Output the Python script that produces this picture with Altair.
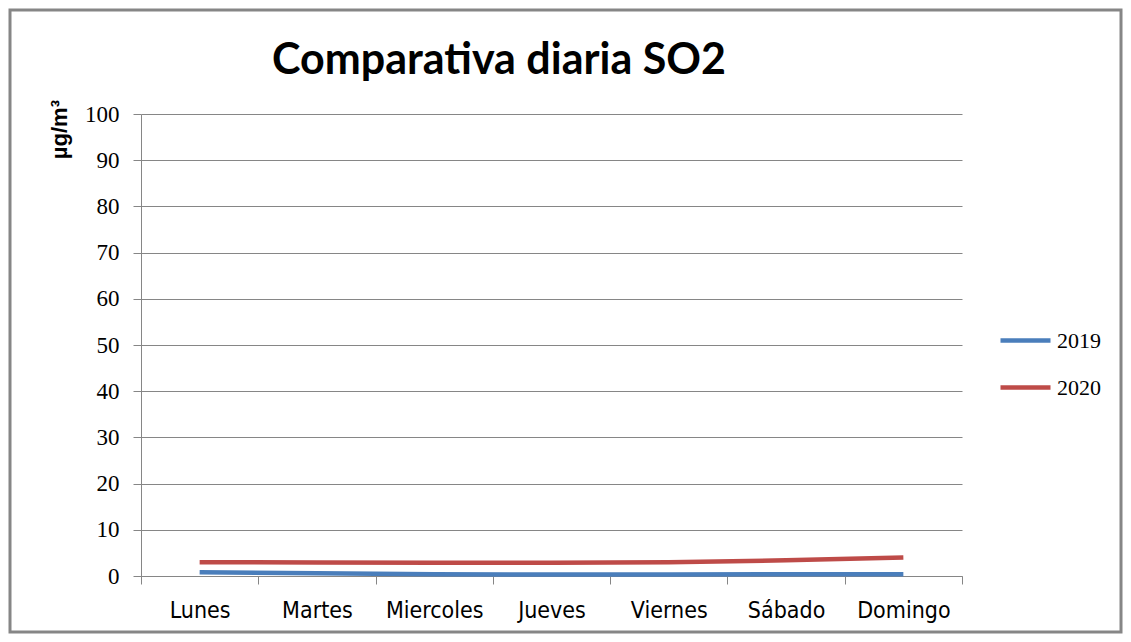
import altair as alt
import pandas as pd

days = ["Lunes", "Martes", "Miercoles", "Jueves", "Viernes", "Sábado", "Domingo"]
so2_2019 = [0.8, 0.6, 0.4, 0.3, 0.3, 0.4, 0.4]
so2_2020 = [3.0, 2.9, 2.85, 2.85, 3.0, 3.4, 4.0]
series = ["2019", "2020"]
colors = ["#4A7EBB", "#BE4B48"]

rows = []
for d, v in zip(days, so2_2019):
    rows.append({"dia": d, "valor": v, "serie": "2019"})
for d, v in zip(days, so2_2020):
    rows.append({"dia": d, "valor": v, "serie": "2020"})
df = pd.DataFrame(rows)

W, H = 821, 462

lines = alt.Chart(df).mark_line(strokeWidth=4.5).encode(
    x=alt.X("dia:N", sort=days, bandPosition=0.5,
            scale=alt.Scale(type="band", paddingInner=0, paddingOuter=0),
            axis=alt.Axis(title=None, tickBand="extent", labelAngle=0,
                          labelFont="Liberation Sans Narrow, DejaVu Sans Condensed",
                          labelFontSize=23,
                          labelColor="black", labelPadding=26, tickSize=8,
                          tickColor="#868686", domainColor="#868686",
                          grid=False, labelBaseline="middle")),
    y=alt.Y("valor:Q", scale=alt.Scale(domain=[0, 100]),
            axis=alt.Axis(title=None, values=list(range(0, 101, 10)),
                          labelFont="Liberation Serif", labelFontSize=23,
                          labelColor="black", labelPadding=14, tickSize=8,
                          tickColor="#868686", domainColor="#868686",
                          gridColor="#868686", gridWidth=1)),
    color=alt.Color("serie:N", scale=alt.Scale(domain=series, range=colors),
                    legend=alt.Legend(title=None, orient="none",
                                      legendX=857, legendY=199,
                                      symbolType="stroke", symbolSize=2500,
                                      symbolStrokeWidth=4.5,
                                      labelFont="Liberation Serif",
                                      labelFontSize=22, labelColor="black",
                                      rowPadding=8, labelOffset=4)),
)

one = pd.DataFrame({"t": ["Comparativa diaria SO2"]})
title = alt.Chart(one).mark_text(font="Lato", fontSize=43, fontWeight="bold",
                                 align="center", baseline="middle").encode(
    x=alt.value(358), y=alt.value(-53), text="t:N")

unit = pd.DataFrame({"t": ["µg/m³"]})
ylab = alt.Chart(unit).mark_text(font="Liberation Sans", fontSize=22, fontWeight="bold",
                                 angle=270, align="right", baseline="middle").encode(
    x=alt.value(-81), y=alt.value(-14), text="t:N")

border = alt.Chart(one).mark_rect(fill=None, stroke="#868686", strokeWidth=3).encode(
    x=alt.value(-131), x2=alt.value(980), y=alt.value(-104), y2=alt.value(518))

chart = alt.layer(border, lines, title, ylab).properties(
    width=W, height=H,
    autosize=alt.AutoSizeParams(type="none"),
    padding={"left": 133, "top": 106, "right": 161, "bottom": 58},
).configure_view(stroke=None)

chart.save("out.html", embed_options={"renderer": "svg", "actions": False})
